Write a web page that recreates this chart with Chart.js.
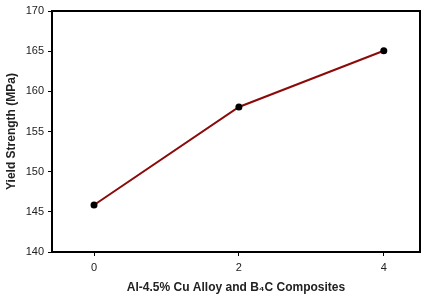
<!DOCTYPE html>
<html>
<head>
<meta charset="utf-8">
<script src="https://cdn.jsdelivr.net/npm/chart.js@4"></script>
<style>
  html, body { margin: 0; padding: 0; background: #fff; }
  #wrap { width: 424px; height: 299px; }
</style>
</head>
<body>
<div id="wrap"><canvas id="myChart" width="424" height="299"></canvas></div>
<script>
// values
const contentB4C = [0, 2, 4];
const yieldStrength = [145.85, 158.05, 165.05];
const yTicks = [140, 145, 150, 155, 160, 165, 170];
const xTicks = [0, 2, 4];

const frame = {
    id: 'frame',
    afterDraw(chart) {
        const a = chart.chartArea;
        const c = chart.ctx;
        c.save();
        c.strokeStyle = '#000';
        c.lineWidth = 2;
        c.strokeRect(a.left, a.top, a.right - a.left, a.bottom - a.top);
        c.restore();
    }
};

const ctx = document.getElementById('myChart').getContext('2d');
const sensorsChart = new Chart(ctx, {
    type: 'scatter',
    data: {
        datasets: [{
            data: contentB4C.map((x, i) => ({ x: x, y: yieldStrength[i] })),
            showLine: true,
            borderColor: '#8B0A0A',
            borderWidth: 2,
            backgroundColor: '#000',
            pointBackgroundColor: '#000',
            pointBorderColor: '#000',
            pointRadius: 3.5,
            pointBorderWidth: 0
        }]
    },
    options: {
        responsive: false,
        animation: false,
        layout: { padding: { top: 11, right: 3, left: 0, bottom: 0 } },
        plugins: { legend: { display: false }, tooltip: { enabled: false } },
        scales: {
            x: {
                type: 'linear',
                min: -0.58,
                max: 4.5,
                afterBuildTicks: s => { s.ticks = xTicks.map(v => ({ value: v })); },
                afterFit: s => { s.height = 47; },
                grid: { drawOnChartArea: false, drawTicks: true, tickLength: 4, color: '#000' },
                border: { display: true, color: '#000', width: 2 },
                ticks: { color: '#222', font: { family: 'Liberation Sans', size: 11 }, padding: 5, maxRotation: 0 },
                title: {
                    display: true,
                    text: 'Al-4.5% Cu Alloy and B\u2084C Composites',
                    color: '#222',
                    font: { family: 'Liberation Sans', size: 12, weight: 'bold' },
                    padding: { top: 3, bottom: 4 }
                }
            },
            y: {
                min: 140,
                max: 170,
                afterBuildTicks: s => { s.ticks = yTicks.map(v => ({ value: v })); },
                afterFit: s => { s.width = 52; },
                grid: { drawOnChartArea: false, drawTicks: true, tickLength: 4, color: '#000' },
                border: { display: true, color: '#000', width: 2 },
                ticks: { color: '#222', font: { family: 'Liberation Sans', size: 11 }, padding: 4 },
                title: {
                    display: true,
                    text: 'Yield Strength (MPa)',
                    color: '#222',
                    font: { family: 'Liberation Sans', size: 12, weight: 'bold' },
                    padding: { top: 4, bottom: 4 }
                }
            }
        }
    },
    plugins: [frame]
});
</script>
</body>
</html>
